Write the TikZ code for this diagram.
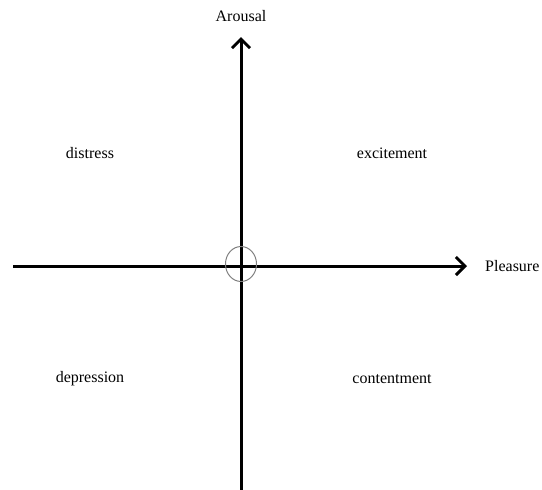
\documentclass[tikz,border=0pt]{standalone}
\usepackage{fontspec}
\setmainfont{Liberation Serif}
\usetikzlibrary{arrows.meta,shapes.geometric}
\begin{document}
\begin{tikzpicture}[x=1pt,y=-1pt,
  axis/.style={line width=3pt,-{Straight Barb[length=9pt,width=18pt,line width=3pt]}},
  lbl/.style={font=\fontsize{16}{18}\selectfont,inner sep=0pt}]
\useasboundingbox (0,0) rectangle (542,490);
\coordinate (xs) at (13,266);
\coordinate (xe) at (467,266);
\coordinate (ys) at (241,490);
\coordinate (ye) at (241,37);
\draw[axis] (xs) -- (xe);
\draw[axis] (ys) -- (ye);
\node[draw=gray,line width=1pt,ellipse,minimum width=31pt,minimum height=35pt,inner sep=0pt] (o) at (241,264) {};
\node[lbl] (ar) at (241,16) {Arousal};
\node[lbl,anchor=west] (pl) at (485,266) {Pleasure};
\node[lbl] (di) at (90,153) {distress};
\node[lbl] (ex) at (392,153) {excitement};
\node[lbl] (de) at (90,379) {depression};
\node[lbl] (co) at (392,379) {contentment};
\end{tikzpicture}
\end{document}
